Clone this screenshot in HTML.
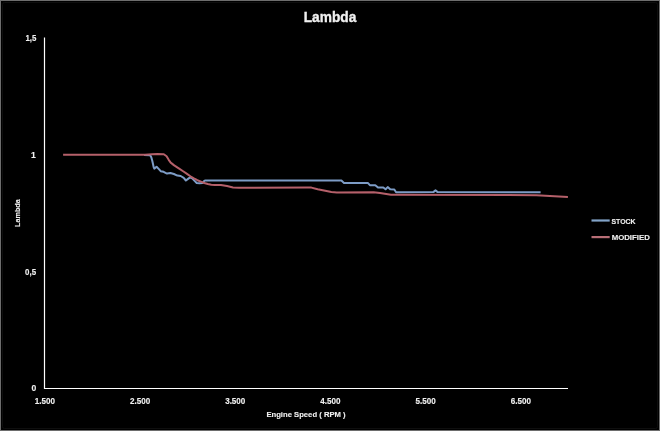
<!DOCTYPE html>
<html><head><meta charset="utf-8">
<style>
html,body{margin:0;padding:0;background:#000;}
body{width:660px;height:431px;overflow:hidden;}
svg{display:block;will-change:transform;}
text{font-family:"Liberation Sans",sans-serif;font-weight:bold;fill:#f0f0f0;}
</style></head><body>
<svg width="660" height="431" viewBox="0 0 660 431">
<rect x="0" y="0" width="660" height="431" fill="#000"/>
<rect x="0.5" y="0.5" width="659" height="430" fill="none" stroke="#6d6d6d" stroke-width="1"/>
<rect x="2.5" y="2.5" width="655" height="426" rx="2" fill="none" stroke="#0e0e0e" stroke-width="1"/>
<!-- title -->
<text x="330" y="22" font-size="14.5" stroke="#f0f0f0" stroke-width="0.35" text-anchor="middle" textLength="52.5" lengthAdjust="spacingAndGlyphs">Lambda</text>
<!-- axes -->
<line x1="44.5" y1="37.5" x2="44.5" y2="389" stroke="#fff" stroke-width="1.2"/>
<line x1="44" y1="388.5" x2="568" y2="388.5" stroke="#fff" stroke-width="1.2"/>
<!-- y labels -->
<g font-size="8.6" text-anchor="end" stroke="#f0f0f0" stroke-width="0.12">
<text x="36.3" y="40.6" textLength="10.9" lengthAdjust="spacingAndGlyphs">1,5</text>
<text x="35.9" y="157.8">1</text>
<text x="36.1" y="275.2" textLength="11" lengthAdjust="spacingAndGlyphs">0,5</text>
<text x="36.2" y="391.3">0</text>
</g>
<!-- x labels -->
<g font-size="8.6" text-anchor="middle" stroke="#f0f0f0" stroke-width="0.12">
<text x="44.85" y="403.6" textLength="20.2" lengthAdjust="spacingAndGlyphs">1.500</text>
<text x="140.05" y="403.6" textLength="20.2" lengthAdjust="spacingAndGlyphs">2.500</text>
<text x="235.25" y="403.6" textLength="20.2" lengthAdjust="spacingAndGlyphs">3.500</text>
<text x="330.45" y="403.6" textLength="20.2" lengthAdjust="spacingAndGlyphs">4.500</text>
<text x="425.65" y="403.6" textLength="20.2" lengthAdjust="spacingAndGlyphs">5.500</text>
<text x="520.85" y="403.6" textLength="20.2" lengthAdjust="spacingAndGlyphs">6.500</text>
</g>
<text x="266.4" y="417.4" font-size="8" stroke="#f0f0f0" stroke-width="0.12" textLength="79.2" lengthAdjust="spacingAndGlyphs">Engine Speed ( RPM )</text>
<text transform="translate(20.2,226.9) rotate(-90)" font-size="8" stroke="#f0f0f0" stroke-width="0.12" textLength="27.7" lengthAdjust="spacingAndGlyphs">Lambda</text>
<!-- legend -->
<line x1="591.5" y1="220.5" x2="609.7" y2="220.5" stroke="#82a3c8" stroke-width="2.2"/>
<line x1="591.5" y1="237.1" x2="609.7" y2="237.1" stroke="#b86e76" stroke-width="2.2"/>
<text x="611.5" y="223.9" font-size="8" stroke="#f0f0f0" stroke-width="0.12" textLength="24.1" lengthAdjust="spacingAndGlyphs">STOCK</text>
<text x="611.7" y="239.7" font-size="8" stroke="#f0f0f0" stroke-width="0.12" textLength="38.1" lengthAdjust="spacingAndGlyphs">MODIFIED</text>
<!-- series -->
<polyline fill="none" stroke="#7d9cc6" stroke-width="2" stroke-linejoin="round" stroke-linecap="butt" points="
144,155 150.2,155.2 151.3,157.2 152.2,160.5 153,164 153.7,167.4 154.3,168.6 156.6,166.8 158.9,169.1 160.7,171.2 163.6,171.8 165.5,172.8 167,173.6 170.4,173 173.9,174 177.4,175.6 180.7,176 183.7,177.8 185.9,180.5 187.7,179.1 190.1,177.4 192.2,178.4 194.6,180.9 196.7,183 199.5,183.3 202.6,183 204.3,180.9 205.4,180.4 341.4,180.5 344,182.9 367.8,182.9 369.9,185.2 375.3,185.2 378,187.5 383.3,187.5 385.6,189.3 387.7,187.1 390.2,189.3 394.3,189.5 396.1,192.2 433.3,192.1 435.5,190.4 437.7,192.1 540.6,192.2"/>
<polyline fill="none" stroke="#b5606a" stroke-width="2" stroke-linejoin="round" stroke-linecap="butt" points="
63.1,154.85 145,154.7 152,154.3 157.5,153.9 163.8,154.3 166.6,156.3 168.7,159.8 170.7,162.6 174.2,165.4 178.4,168.2 183.5,171.5 187,173.9 190.4,176.3 193.9,178.4 197.4,180.2 200.9,181.6 204.3,183 207.8,184 211.3,184.7 214.8,185 216,185 220.9,185.1 227,186.1 233,187.4 239,187.7 306.8,187.5 311.4,187.6 317.7,189.3 324,190.6 331.4,192 336.8,192.5 373.6,192.3 380,193 391,194.7 396,194.7 536.4,195.2 567.9,197"/>
</svg>
</body></html>
